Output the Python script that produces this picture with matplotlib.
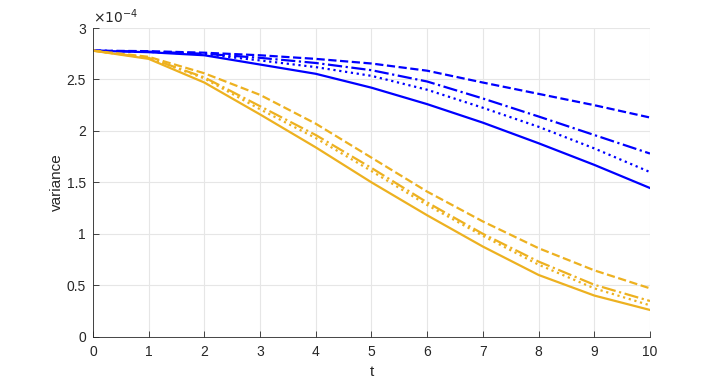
import matplotlib.pyplot as plt
import numpy as np

plt.rcParams['font.family'] = ['Liberation Sans', 'DejaVu Sans']

t = [0, 1, 2, 3, 4, 5, 6, 7, 8, 9, 10]

# variance values in units of 1e-4
blue_solid = [2.78, 2.765, 2.735, 2.645, 2.555, 2.42, 2.26, 2.08, 1.88, 1.67, 1.445]
blue_dotted = [2.78, 2.768, 2.745, 2.685, 2.62, 2.535, 2.40, 2.225, 2.04, 1.83, 1.60]
blue_dashdot = [2.78, 2.77, 2.75, 2.71, 2.66, 2.59, 2.48, 2.315, 2.14, 1.96, 1.78]
blue_dashed = [2.78, 2.775, 2.76, 2.735, 2.70, 2.655, 2.585, 2.47, 2.36, 2.25, 2.13]

orange_solid = [2.78, 2.70, 2.47, 2.16, 1.84, 1.50, 1.18, 0.876, 0.60, 0.40, 0.26]
orange_dotted = [2.78, 2.71, 2.51, 2.21, 1.93, 1.61, 1.28, 0.98, 0.70, 0.47, 0.305]
orange_dashdot = [2.78, 2.71, 2.52, 2.24, 1.96, 1.64, 1.305, 1.00, 0.73, 0.505, 0.347]
orange_dashed = [2.78, 2.72, 2.56, 2.35, 2.07, 1.74, 1.41, 1.12, 0.86, 0.645, 0.47]

blue = '#0000ff'
orange = '#edb120'
scale = 1e-4

fig = plt.figure(figsize=(7.19, 3.79), dpi=100)
ax = fig.add_axes([0.1293, 0.1116, 0.7747, 0.8145])

series = [
    (blue_solid, blue, '-'), (blue_dotted, blue, ':'),
    (blue_dashdot, blue, '-.'), (blue_dashed, blue, '--'),
    (orange_solid, orange, '-'), (orange_dotted, orange, ':'),
    (orange_dashdot, orange, '-.'), (orange_dashed, orange, '--'),
]
for vals, c, ls in series:
    ax.plot(t, np.array(vals) * scale, color=c, linestyle=ls, linewidth=1.6)

ax.set_xlim(0, 10)
ax.set_ylim(0, 3e-4)
ax.set_xticks(range(11))
yt = [0, 0.5, 1, 1.5, 2, 2.5, 3]
ax.set_yticks([v * scale for v in yt])
ax.set_yticklabels([f'{v:g}' for v in yt])

ax.grid(True, color='#e6e6e6', linewidth=0.8)
ax.set_axisbelow(True)
for s in ['top', 'right']:
    ax.spines[s].set_visible(False)
for s in ['left', 'bottom']:
    ax.spines[s].set_color('#262626')
    ax.spines[s].set_linewidth(0.6)
ax.tick_params(direction='in', length=4, width=0.6, colors='#262626', labelsize=10)
ax.tick_params(axis='x', pad=6)
ax.tick_params(axis='y', pad=5)

ax.set_xlabel('t', fontsize=11, color='#262626', labelpad=4)
ax.set_ylabel('variance', fontsize=11, color='#262626', labelpad=2)
ax.text(0.0, 1.005, r'$\times10^{-4}$', transform=ax.transAxes, fontsize=10,
        color='#262626', ha='left', va='bottom')

fig.savefig('out.png', dpi=100)
